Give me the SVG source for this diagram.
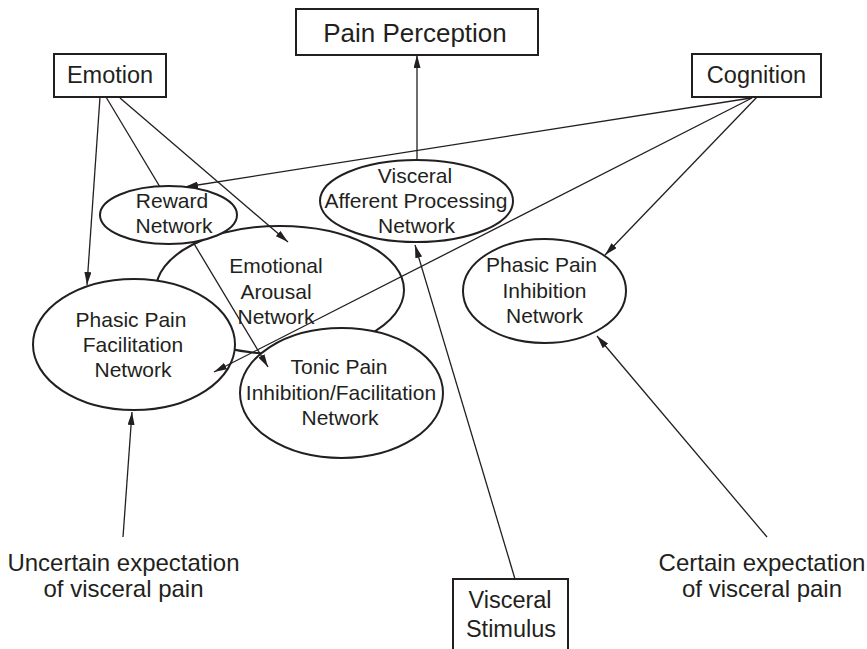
<svg xmlns="http://www.w3.org/2000/svg" width="867" height="649" viewBox="0 0 867 649">
<style>
text{font-family:"Liberation Sans",Arial,sans-serif;fill:#231f20;text-anchor:middle}
.box{fill:#fff;stroke:#231f20;stroke-width:2}
.ell{fill:#fff;stroke:#231f20;stroke-width:2}
.t23{font-size:23.5px}
.t26{font-size:26px}
.t21{font-size:21px}
.t24{font-size:24px}
.con line{stroke:#231f20;stroke-width:1.3;fill:none}
.arr{marker-end:url(#ah)}
</style>
<defs>
<marker id="ah" viewBox="0 0 13 7" refX="13" refY="3.5" markerWidth="13" markerHeight="7" markerUnits="userSpaceOnUse" orient="auto">
<path d="M0,0 L13,3.5 L0,7 z" fill="#231f20"/>
</marker>
</defs>
<rect width="867" height="649" fill="#fff"/>

<g id="pain-perception"><rect class="box" x="296" y="9" width="242" height="46"/><text class="t26" x="415" y="42">Pain Perception</text></g>
<g id="emotion"><rect class="box" x="54" y="54" width="112" height="43"/><text class="t23" x="110" y="83">Emotion</text></g>
<g id="cognition"><rect class="box" x="692" y="54" width="129" height="43"/><text class="t23" x="756.5" y="83">Cognition</text></g>
<g id="visceral-stimulus"><rect class="box" x="453" y="579" width="115" height="85"/><text class="t23" x="510" y="608">Visceral</text><text class="t23" x="511" y="637">Stimulus</text></g>

<g id="emotional-arousal"><ellipse class="ell" cx="280" cy="290" rx="124" ry="64"/><text class="t21" x="276" y="273">Emotional</text><text class="t21" x="276" y="299">Arousal</text><text class="t21" x="276" y="324">Network</text></g>
<g id="phasic-facilitation"><ellipse class="ell" cx="134" cy="344.5" rx="101" ry="65.5"/><text class="t21" x="131" y="327">Phasic Pain</text><text class="t21" x="133" y="352">Facilitation</text><text class="t21" x="133" y="377">Network</text></g>
<g id="tonic"><ellipse class="ell" cx="341.5" cy="393" rx="101.5" ry="65"/><text class="t21" x="339" y="374">Tonic Pain</text><text class="t21" x="341" y="400">Inhibition/Facilitation</text><text class="t21" x="340" y="425">Network</text></g>
<g id="visceral-afferent"><ellipse class="ell" cx="416.5" cy="201" rx="96.5" ry="41"/><text class="t21" x="415" y="183">Visceral</text><text class="t21" x="416" y="208">Afferent Processing</text><text class="t21" x="416.5" y="233">Network</text></g>
<g id="phasic-inhibition"><ellipse class="ell" cx="544.5" cy="291" rx="81.5" ry="52"/><text class="t21" x="541.5" y="272">Phasic Pain</text><text class="t21" x="544.5" y="298">Inhibition</text><text class="t21" x="544.5" y="323">Network</text></g>

<g id="labels">
<text class="t24" x="123.5" y="571">Uncertain expectation</text><text class="t24" x="123.5" y="597">of visceral pain</text>
<text class="t24" x="762" y="571">Certain expectation</text><text class="t24" x="762" y="597">of visceral pain</text>
</g>

<g id="connectors" class="con">
<line class="arr" x1="417" y1="160" x2="417" y2="55"/>
<line class="arr" x1="100" y1="97" x2="87" y2="285"/>
<line class="arr" x1="106" y1="97" x2="268" y2="367"/>
<line class="arr" x1="120" y1="98" x2="288" y2="242"/>
<line class="arr" x1="751" y1="98" x2="185" y2="187"/>
<line class="arr" x1="752" y1="98" x2="214" y2="372"/>
<line class="arr" x1="757" y1="97" x2="605" y2="255"/>
<line class="arr" x1="515" y1="579" x2="415" y2="245"/>
<line class="arr" x1="123" y1="537" x2="132" y2="412"/>
<line class="arr" x1="767" y1="537" x2="597" y2="336"/>
</g>

<g id="reward"><ellipse class="ell" cx="168.5" cy="215" rx="68.5" ry="29"/><text class="t21" x="172" y="208">Reward</text><text class="t21" x="174" y="233">Network</text></g>
</svg>
